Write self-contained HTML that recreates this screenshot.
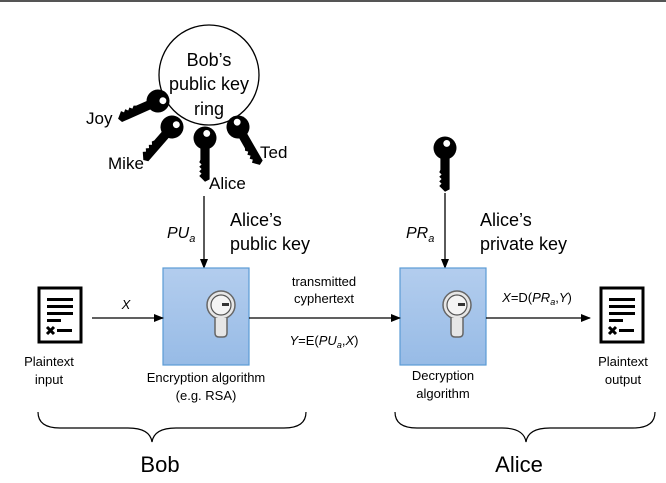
<!DOCTYPE html>
<html><head><style>
body{margin:0;background:#fff}
svg{display:block;font-family:"Liberation Sans",sans-serif}
</style></head><body>
<svg width="666" height="483" viewBox="0 0 666 483" xmlns="http://www.w3.org/2000/svg">
<defs>
<linearGradient id="bg" x1="0" y1="0" x2="0" y2="1"><stop offset="0" stop-color="#b3cdee"/><stop offset="1" stop-color="#97bbe6"/></linearGradient>
<marker id="ar" markerWidth="10" markerHeight="8" refX="9" refY="4" orient="auto" markerUnits="userSpaceOnUse"><path d="M0,0 L10,4 L0,8 z" fill="#000"/></marker>
<g id="key">
<circle cx="0" cy="0" r="10" fill="#000"/>
<circle cx="1.5" cy="-4" r="3" fill="#fff"/>
<path d="M-4,6 H4 V36 L0,38 L-3,35 L-5,33 L-3,31 L-5,29 L-3,27 L-5,25 L-3,23 L-5,21 L-4,19 Z" fill="#000"/>
</g>
<g id="lock">
<circle cx="0" cy="0" r="14" fill="#e6e6e6" stroke="#666" stroke-width="1.5"/>
<circle cx="0" cy="0" r="10" fill="#f4f4f4" stroke="#555" stroke-width="1.2"/>
<rect x="1" y="-2" width="7" height="3" fill="#333"/>
<path d="M-6,13 V28 Q-6,32 -2,32 H2 Q6,32 6,28 V13" fill="#e6e6e6" stroke="#666" stroke-width="1.5"/>
</g>
<g id="doc">
<rect x="0" y="0" width="42" height="54" fill="#fff" stroke="#000" stroke-width="3"/>
<rect x="8" y="10" width="26" height="3" fill="#000"/>
<rect x="8" y="17" width="26" height="3" fill="#000"/>
<rect x="8" y="24" width="26" height="3" fill="#000"/>
<rect x="8" y="31" width="14" height="3" fill="#000"/>
<path d="M8,39 L15,46 M15,39 L8,46" stroke="#000" stroke-width="3"/>
<rect x="18" y="41" width="15" height="3" fill="#000"/>
</g>
</defs>
<rect x="0" y="0" width="666" height="2" fill="#555"/>

<circle cx="209" cy="75" r="50" fill="#fff" stroke="#000" stroke-width="1.3"/>
<text font-size="18" text-anchor="middle" fill="#000"><tspan x="209" y="66">Bob’s</tspan><tspan x="209" y="90">public key</tspan><tspan x="209" y="115">ring</tspan></text>

<use href="#key" transform="translate(158,101) rotate(66) scale(1.15)"/>
<use href="#key" transform="translate(172,127) rotate(41) scale(1.15)"/>
<use href="#key" transform="translate(205,138) rotate(0) scale(1.15)"/>
<use href="#key" transform="translate(238,127) rotate(-30) scale(1.15)"/>
<use href="#key" transform="translate(445,148) scale(1.15)"/>

<text font-size="17" fill="#000"><tspan x="86" y="124">Joy</tspan><tspan x="108" y="169">Mike</tspan><tspan x="260" y="158">Ted</tspan><tspan x="209" y="189">Alice</tspan></text>

<line x1="204" y1="196" x2="204" y2="268" stroke="#000" stroke-width="1.3" marker-end="url(#ar)"/>
<line x1="445" y1="193" x2="445" y2="268" stroke="#000" stroke-width="1.3" marker-end="url(#ar)"/>

<text font-size="16" fill="#000" font-style="italic" x="167" y="238">PU<tspan font-size="11" dy="4">a</tspan></text>
<text font-size="18" fill="#000"><tspan x="230" y="226">Alice’s</tspan><tspan x="230" y="250">public key</tspan></text>
<text font-size="16" fill="#000" font-style="italic" x="406" y="238">PR<tspan font-size="11" dy="4">a</tspan></text>
<text font-size="18" fill="#000"><tspan x="480" y="226">Alice’s</tspan><tspan x="480" y="250">private key</tspan></text>

<rect x="163" y="268" width="86" height="97" fill="url(#bg)" stroke="#5b9bd5" stroke-width="1.2"/>
<rect x="400" y="268" width="86" height="97" fill="url(#bg)" stroke="#5b9bd5" stroke-width="1.2"/>
<use href="#lock" transform="translate(221,305)"/>
<use href="#lock" transform="translate(457,305)"/>

<use href="#doc" transform="translate(39,288)"/>
<use href="#doc" transform="translate(601,288)"/>

<line x1="92" y1="318" x2="163" y2="318" stroke="#000" stroke-width="1.3" marker-end="url(#ar)"/>
<line x1="249" y1="318" x2="400" y2="318" stroke="#000" stroke-width="1.3" marker-end="url(#ar)"/>
<line x1="486" y1="318" x2="590" y2="318" stroke="#000" stroke-width="1.3" marker-end="url(#ar)"/>

<g font-size="13" fill="#000">
<text x="126" y="309" font-style="italic" text-anchor="middle">X</text>
<text x="324" y="286" text-anchor="middle">transmitted</text>
<text x="324" y="303" text-anchor="middle">cyphertext</text>
<text x="324" y="345" text-anchor="middle"><tspan font-style="italic">Y</tspan>=E(<tspan font-style="italic">PU</tspan><tspan font-size="9" dy="3" font-style="italic">a</tspan><tspan dy="-3">,</tspan><tspan font-style="italic">X</tspan>)</text>
<text x="537" y="302" text-anchor="middle"><tspan font-style="italic">X</tspan>=D(<tspan font-style="italic">PR</tspan><tspan font-size="9" dy="3" font-style="italic">a</tspan><tspan dy="-3">,</tspan><tspan font-style="italic">Y</tspan>)</text>
<text x="49" y="366" text-anchor="middle">Plaintext</text>
<text x="49" y="384" text-anchor="middle">input</text>
<text x="206" y="382" text-anchor="middle">Encryption algorithm</text>
<text x="206" y="400" text-anchor="middle">(e.g. RSA)</text>
<text x="443" y="380" text-anchor="middle">Decryption</text>
<text x="443" y="398" text-anchor="middle">algorithm</text>
<text x="623" y="366" text-anchor="middle">Plaintext</text>
<text x="623" y="384" text-anchor="middle">output</text>
</g>

<path d="M38,412 Q38,428 60,428 H128 Q150,428 152,442 Q154,428 176,428 H284 Q306,428 306,412" fill="none" stroke="#000" stroke-width="1.2"/>
<path d="M395,412 Q395,428 417,428 H502 Q524,428 526,442 Q528,428 550,428 H633 Q655,428 655,412" fill="none" stroke="#000" stroke-width="1.2"/>
<text x="160" y="472" font-size="22" text-anchor="middle" fill="#000">Bob</text>
<text x="519" y="472" font-size="22" text-anchor="middle" fill="#000">Alice</text>
</svg>
</body></html>
